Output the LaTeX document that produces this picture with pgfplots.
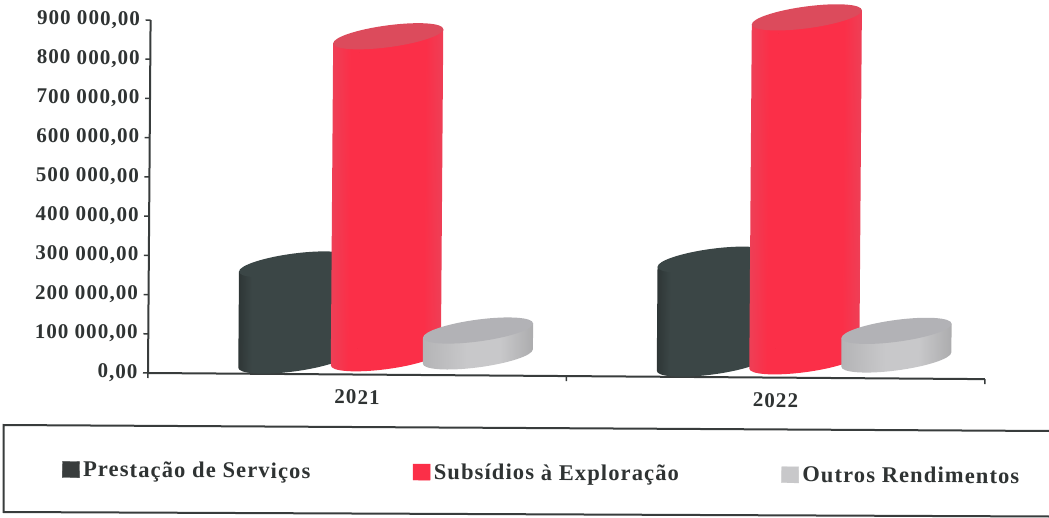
\documentclass[border=0pt]{standalone}
\usepackage{pgfplots}
\pgfplotsset{compat=1.18}
\usepackage{fontspec}
\setmainfont{Liberation Serif}
\definecolor{inkc}{HTML}{2F3333}
\definecolor{framec}{HTML}{383C3C}
\definecolor{darkbar}{HTML}{3B4646}
\definecolor{darkedge}{HTML}{2E3636}
\definecolor{redbar}{HTML}{FB2F48}
\definecolor{rededge}{HTML}{EE3F56}
\definecolor{graybar}{HTML}{C8C8CA}
\definecolor{grayedge}{HTML}{B4B4B6}
\definecolor{redtop}{HTML}{DC4B5C}
\definecolor{graytop}{HTML}{B2B2B6}

% Body shadings: a narrow band at each edge around a flat centre.
\pgfdeclarehorizontalshading{darkbody}{100bp}{color(0bp)=(darkedge); color(25bp)=(darkedge); color(31bp)=(darkbar); color(100bp)=(darkbar)}
\pgfdeclarehorizontalshading{redbody}{100bp}{color(0bp)=(rededge); color(25bp)=(rededge); color(33bp)=(redbar); color(67bp)=(redbar); color(75bp)=(rededge); color(100bp)=(rededge)}
\pgfdeclarehorizontalshading{graybody}{100bp}{color(0bp)=(grayedge); color(25bp)=(grayedge); color(45bp)=(graybar); color(60bp)=(graybar); color(75bp)=(grayedge!85!gray); color(100bp)=(grayedge!85!gray)}

% Tilted cylinder hung from its data point: #1 x offset, #2 depth offset,
% #3 body shading, #4 top face colour. \hh is the height in pt from the value.
\newcommand{\cylinder}[4]{%
  \scope[x=1pt,y=1pt]
  \def\dx{#1}\def\dy{#2}%
  \path[draw=none,shade,shading=#3] ({\dx-55},{\dy-7.5}) -- ({\dx-55},{\dy-7.5-\hh})
    .. controls ({\dx-55},{\dy-13.58-\hh}) and ({\dx-30.4},{\dy-15.14-\hh}) .. ({\dx},{\dy-11-\hh})
    .. controls ({\dx+30.4},{\dy-6.86-\hh}) and ({\dx+55},{\dy+1.42-\hh}) .. ({\dx+55},{\dy+7.5-\hh})
    -- ({\dx+55},{\dy+7.5}) -- cycle;
  \path[draw=none,fill=#4] ({\dx+55},{\dy+7.5})
    .. controls ({\dx+55},{\dy+13.58}) and ({\dx+30.4},{\dy+15.14}) .. ({\dx},{\dy+11})
    .. controls ({\dx-30.4},{\dy+6.86}) and ({\dx-55},{\dy-1.42}) .. ({\dx-55},{\dy-7.5})
    .. controls ({\dx-55},{\dy-13.58}) and ({\dx-30.4},{\dy-15.14}) .. ({\dx},{\dy-11})
    .. controls ({\dx+30.4},{\dy-6.86}) and ({\dx+55},{\dy+1.42}) .. ({\dx+55},{\dy+7.5}) -- cycle;
  \endscope}

\pgfplotsset{
  cylinder plot/.style 2 args={
    scatter, only marks, mark=*, mark size=0pt,
    visualization depends on={rawy/900000*353 \as \hh},
    scatter/@pre marker code/.code={\scope #2},
    scatter/@post marker code/.code={\endscope},
    legend image code/.code={\fill[#1] (0pt,-8pt) rectangle (17pt,8pt);},
  },
}

\begin{document}
\begin{tikzpicture}
\path[use as bounding box] (0pt,0pt) rectangle (1049pt,517pt);
% legend frame, open on the right
\draw[framec,line width=2pt] (1049pt,86pt) -- (3.5pt,92pt) -- (3.5pt,5pt) -- (1049pt,0.5pt);
\begin{scope}[transform canvas={rotate around={-0.42:(148pt,144pt)}}]
\begin{axis}[
  at={(148pt,144pt)}, anchor=south west,
  scale only axis, width=837pt, height=353pt,
  clip=false,
  xmin=-0.5, xmax=1.5, ymin=0, ymax=900000,
  axis lines*=left,
  axis line style={framec,line width=2pt,-},
  xtick={0,1}, xticklabels={2021,2022},
  minor xtick={-0.5,0.5,1.5},
  major x tick style={draw=none},
  minor x tick style={framec,line width=1.5pt},
  minor tick length=5pt,
  ytick={0,100000,...,900000},
  y tick style={framec,line width=1.5pt},
  tick align=outside, major tick length=5pt,
  scaled y ticks=false,
  /pgf/number format/fixed,
  /pgf/number format/fixed zerofill,
  /pgf/number format/precision=2,
  /pgf/number format/use comma,
  /pgf/number format/1000 sep={\ },
  /pgf/number format/assume math mode=true,
  ticklabel style={font=\fontsize{21}{21}\selectfont\bfseries\addfontfeatures{LetterSpace=5},text=inkc},
  yticklabel style={xshift=-2pt},
  xticklabel style={yshift=-7pt},
  legend columns=3,
  legend style={at={(rel axis cs:-0.1016,-0.275)},anchor=west,draw=none,fill=none,
    inner sep=0pt,outer sep=0pt,
    font=\fontsize{22.5}{22.5}\selectfont\bfseries\addfontfeatures{LetterSpace=5},text=inkc,
    /tikz/every even column/.append style={column sep=99pt},
    nodes={inner sep=3.5pt}},
  legend cell align=left,
]
\addplot[cylinder plot={framec}{\cylinder{-64}{13.5}{darkbody}{darkbar}}]
  coordinates {(0,245000) (1,265000)};
\addlegendentry{Prestação de Serviços}
\addplot[cylinder plot={redbar}{\cylinder{28.5}{16.5}{redbody}{redtop}}]
  coordinates {(0,821000) (1,877000)};
\addlegendentry{Subsídios à Exploração}
\addplot[cylinder plot={graybar}{\cylinder{120.5}{19}{graybody}{graytop}}]
  coordinates {(0,66000) (1,73000)};
\addlegendentry{Outros Rendimentos}
\end{axis}
\end{scope}
\end{tikzpicture}
\end{document}
